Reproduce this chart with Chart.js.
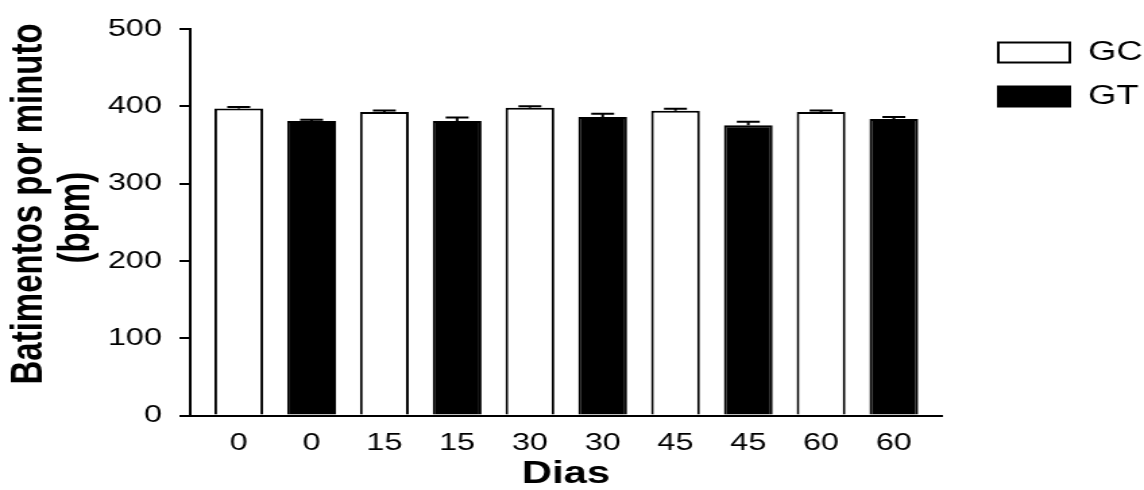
<!DOCTYPE html>
<html>
<head>
<meta charset="utf-8">
<script src="https://cdn.jsdelivr.net/npm/chart.js@4/dist/chart.umd.min.js"></script>
<style>
  html, body { margin: 0; padding: 0; background: #fff; }
  #grafico { display: block; }
</style>
</head>
<body>
<canvas id="grafico" width="848" height="490" style="width:1144px;height:490px"></canvas>
<script>
// rotulos do eixo x (dias), um por barra
var dias = ["0", "0", "15", "15", "30", "30", "45", "45", "60", "60"];
// batimentos (media) e erro padrao de cada grupo
var gcMedia = [397, 392.6, 398, 394.4, 392.6];
var gcErro = [2, 2, 2, 2.5, 2];
var gtMedia = [381, 381, 386, 375.6, 383.6];
var gtErro = [1.5, 4.5, 4.5, 4.3, 2.5];
var yTicks = [0, 100, 200, 300, 400, 500];

var fonte = 'Arial, "Liberation Sans", sans-serif';
Chart.defaults.font.family = fonte;
Chart.defaults.color = "#000";

// barras de erro (so a parte de cima)
var barrasErro = {
  id: "barrasErro",
  afterDatasetsDraw: function (chart) {
    var ctx = chart.ctx;
    var y = chart.scales.y;
    var erros = [gcErro, gtErro];
    ctx.save();
    ctx.strokeStyle = "#000";
    ctx.lineWidth = 2;
    chart.data.datasets.forEach(function (ds, d) {
      chart.getDatasetMeta(d).data.forEach(function (bar, i) {
        var topo = y.getPixelForValue(ds.data[i].y + erros[d][i]);
        ctx.beginPath();
        ctx.moveTo(bar.x, bar.y);
        ctx.lineTo(bar.x, topo);
        ctx.moveTo(bar.x - 8.5, topo);
        ctx.lineTo(bar.x + 8.5, topo);
        ctx.stroke();
      });
    });
    ctx.restore();
  }
};

// empurra a legenda para a direita, como no original
var moveLegenda = {
  id: "moveLegenda",
  afterLayout: function (chart) {
    var leg = chart.legend;
    leg.left = 723;
    leg.right = leg.left + leg.width;
    leg.top = 22;
    leg.bottom = leg.top + leg.height;
  }
};

var opcoesBarra = {
  borderColor: "#000",
  borderWidth: 2,
  grouped: false,
  barPercentage: 0.67,
  categoryPercentage: 1
};

new Chart(document.getElementById("grafico"), {
  type: "bar",
  data: {
    datasets: [
      Object.assign({
        label: "GC",
        backgroundColor: "#fff",
        data: gcMedia.map(function (v, i) { return { x: 2 * i, y: v }; })
      }, opcoesBarra),
      Object.assign({
        label: "GT",
        backgroundColor: "#000",
        data: gtMedia.map(function (v, i) { return { x: 2 * i + 1, y: v }; })
      }, opcoesBarra)
    ]
  },
  options: {
    responsive: false,
    animation: false,
    devicePixelRatio: 1,
    layout: { padding: { left: 0, top: 29, right: 16, bottom: 0 } },
    plugins: {
      tooltip: { enabled: false },
      legend: {
        position: "right",
        align: "start",
        labels: {
          boxWidth: 53,
          boxHeight: 20,
          padding: 17,
          font: { size: 27 },
          color: "#000"
        }
      }
    },
    scales: {
      x: {
        type: "linear",
        offset: false,
        min: -0.667,
        max: 9.657,
        grid: { display: false, drawTicks: false },
        border: { color: "#000", width: 2 },
        ticks: {
          stepSize: 1,
          includeBounds: false,
          autoSkip: false,
          maxRotation: 0,
          padding: 13,
          font: { size: 24 },
          color: "#000",
          callback: function (v) { return dias[v] !== undefined ? dias[v] : ""; }
        },
        title: {
          display: true,
          text: "Dias",
          font: { size: 31, weight: "bold", lineHeight: 1 },
          padding: { top: 0, bottom: 0 },
          color: "#000"
        },
        afterFit: function (scale) { scale.height = 74.5; }
      },
      y: {
        min: 0,
        max: 500,
        grid: {
          drawOnChartArea: false,
          drawTicks: true,
          tickLength: 8,
          color: "#000",
          lineWidth: 2
        },
        border: { color: "#000", width: 2 },
        afterBuildTicks: function (scale) {
          scale.ticks = yTicks.map(function (v) { return { value: v }; });
        },
        ticks: {
          padding: 13,
          font: { size: 24 },
          color: "#000"
        },
        title: {
          display: true,
          text: ["    Batimentos por minuto", " (bpm)"],
          font: { size: 33, weight: "bold", lineHeight: 1.067 },
          padding: { top: 4, bottom: 0 },
          color: "#000"
        },
        afterFit: function (scale) { scale.width = 141; }
      }
    }
  },
  plugins: [barrasErro, moveLegenda]
});
</script>
</body>
</html>
